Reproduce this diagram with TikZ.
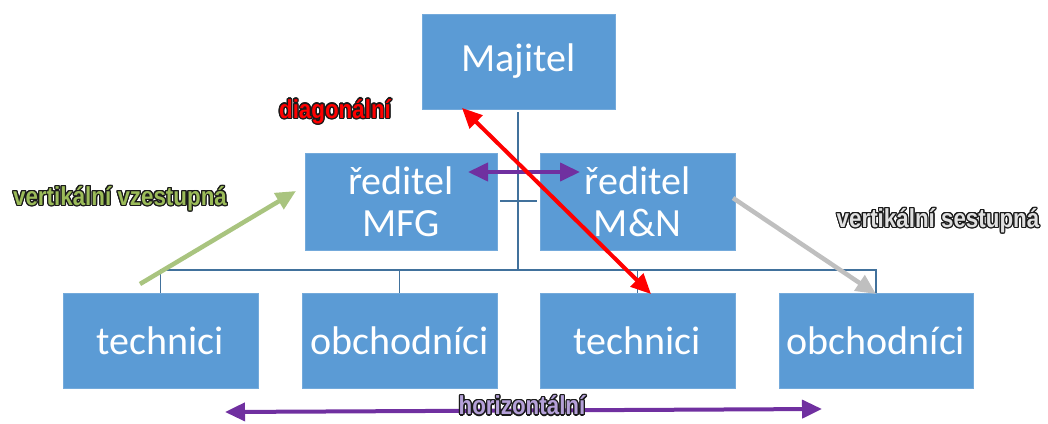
\documentclass[tikz,border=0pt]{standalone}
\usepackage{fontspec}
\setmainfont{Carlito}
\newfontfamily\labfont[FakeStretch=0.86]{Liberation Sans Bold}
\usepackage{contour}
\contourlength{1.2pt}
\contournumber{16}
\usetikzlibrary{arrows.meta}
\definecolor{boxblue}{HTML}{5B9BD5}
\definecolor{lineblue}{HTML}{41719C}
\definecolor{arrred}{HTML}{FF0000}
\definecolor{arrpurple}{HTML}{7030A0}
\definecolor{arrgreen}{HTML}{A9C47F}
\definecolor{arrgrey}{HTML}{BFBFBF}
\definecolor{labgreen}{HTML}{9BBB59}
\definecolor{labpurple}{HTML}{B4A0D8}
\definecolor{labgrey}{HTML}{E0E0E0}
\definecolor{outl}{HTML}{1A1A1A}
\tikzset{
  orgbox/.style={fill=boxblue, draw=boxblue!85!white, line width=0.6pt, inner sep=0pt, text=white,
    font=\fontsize{40}{42}\selectfont, align=center},
  conn/.style={draw=lineblue, line width=1.3pt},
  bigarrow/.style={line width=4pt, {Triangle[length=20pt,width=18pt]}-{Triangle[length=20pt,width=18pt]}},
  onearrow/.style={line width=4.5pt, -{Triangle[length=20pt,width=18pt]}},
  lab/.style={font=\labfont\fontsize{26}{26}\selectfont, inner sep=0pt}
}
\begin{document}
\begin{tikzpicture}[x=1pt,y=-1pt]
\useasboundingbox (0,0) rectangle (1048,423);
% boxes
\node[orgbox, minimum width=193pt, minimum height=95pt] (maj) at (518.5,61.5) {Majitel};
\node[orgbox, minimum width=192pt, minimum height=97pt] (mfg) at (401,201.5) {ředitel\\MFG};
\node[orgbox, minimum width=195pt, minimum height=97pt] (mn) at (637.5,201.5) {ředitel\\M\&N};
\node[orgbox, minimum width=195pt, minimum height=95pt] (t1) at (160.5,340.5) {technici};
\node[orgbox, minimum width=195pt, minimum height=95pt] (o1) at (399.5,340.5) {obchodníci};
\node[orgbox, minimum width=195pt, minimum height=95pt] (t2) at (637.5,340.5) {technici};
\node[orgbox, minimum width=194pt, minimum height=95pt] (o2) at (876,340.5) {obchodníci};
% connectors
\coordinate (top) at (518,112);
\coordinate (bus) at (518,270);
\coordinate (tl) at (500,201);
\coordinate (tr) at (537,201);
\draw[conn] (top) -- (bus);
\draw[conn] (tl) -- (tr);
\draw[conn] (t1.north) |- (bus) -| (o2.north);
\draw[conn] (o1.north) -- (o1.north |- bus);
\draw[conn] (t2.north) -- (t2.north |- bus);
% arrows
\coordinate (ha) at (225,412);
\coordinate (hb) at (822,409);
\coordinate (pa) at (468,172);
\coordinate (pb) at (580,172);
\coordinate (ra) at (462,108);
\coordinate (rb) at (651,294);
\coordinate (ga) at (140,284);
\coordinate (gb) at (296,191);
\coordinate (sa) at (733,198);
\coordinate (sb) at (876,294);
\draw[bigarrow, arrpurple] (pa) -- (pb);
\draw[bigarrow, arrred] (ra) -- (rb);
\draw[onearrow, arrgreen] (ga) -- (gb);
\draw[onearrow, arrgrey] (sa) -- (sb);
\draw[bigarrow, arrpurple] (ha) -- (hb);
% labels
\node[lab] (ldiag) at (335,112) {\contour{outl}{\textcolor{arrred}{diagonální}}};
\node[lab] (lvz) at (120,199) {\contour{outl}{\textcolor{labgreen}{vertikální vzestupná}}};
\node[lab] (lses) at (938,221) {\contour{outl}{\textcolor{labgrey}{vertikální sestupná}}};
\node[lab] (lhor) at (522,406) {\contour{outl}{\textcolor{labpurple}{horizontální}}};
\end{tikzpicture}
\end{document}
